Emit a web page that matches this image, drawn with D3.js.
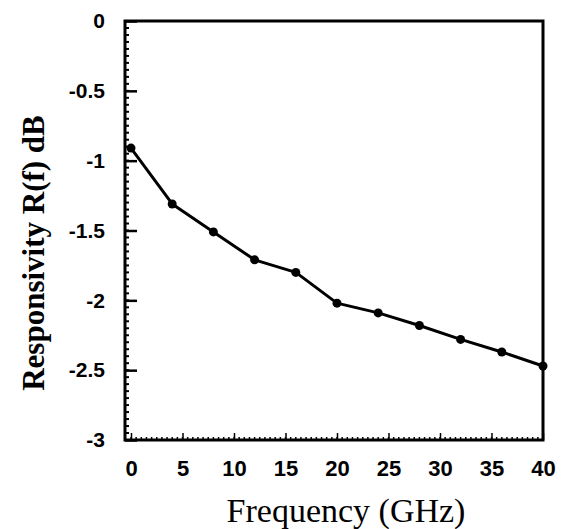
<!DOCTYPE html>
<html><head><meta charset="utf-8">
<script src="https://cdn.jsdelivr.net/npm/d3@7"></script>
<style>body{margin:0;background:#fff}svg{display:block}</style>
</head><body>
<svg id="c" width="562" height="529"></svg>
<script>
const freq = [0, 4, 8, 12, 16, 20, 24, 28, 32, 36, 40];
const resp = [-0.91, -1.31, -1.51, -1.71, -1.80, -2.02, -2.09, -2.18, -2.28, -2.37, -2.47];
const xTicks = [0, 5, 10, 15, 20, 25, 30, 35, 40];
const yTicks = [0, -0.5, -1, -1.5, -2, -2.5, -3];
const yTickLabels = ["0", "-0.5", "-1", "-1.5", "-2", "-2.5", "-3"];

const svg = d3.select("#c");
const L = 125, R = 543, T = 21, B = 440;
const x = d3.scaleLinear().domain([0, 40]).range([L + 6, R]);
const y = d3.scaleLinear().domain([-3, 0]).range([B, T]);

const g = svg.append("g");
// frame
g.append("rect").attr("x", L).attr("y", T).attr("width", R - L).attr("height", B - T)
  .attr("fill", "none").attr("stroke", "#000").attr("stroke-width", 3);

// minor ticks
const yMinor = d3.range(0, 61).map(i => -i * 0.05);
g.selectAll(".ym").data(yMinor).enter().append("line")
  .attr("x1", L).attr("x2", L + 4).attr("y1", d => y(d)).attr("y2", d => y(d))
  .attr("stroke", "#000").attr("stroke-width", 2);
const xMinor = d3.range(0, 81).map(i => i * 0.5);
g.selectAll(".xm").data(xMinor).enter().append("line")
  .attr("x1", d => x(d)).attr("x2", d => x(d)).attr("y1", B).attr("y2", B - 3)
  .attr("stroke", "#000").attr("stroke-width", 1.5);

// axes via d3 with inward ticks
const yAxis = d3.axisLeft(y).tickValues(yTicks).tickSize(-12)
  .tickFormat((d, i) => yTickLabels[i]).tickPadding(20);
const ya = g.append("g").attr("transform", `translate(${L},0)`).call(yAxis);
ya.select(".domain").remove();
ya.selectAll(".tick line").attr("stroke-width", 2.5);
ya.selectAll("text").attr("font-family", "Liberation Sans, Arial, sans-serif")
  .attr("font-weight", "bold").attr("font-size", 21).attr("fill", "#000");

const xAxis = d3.axisBottom(x).tickValues(xTicks).tickSize(-7).tickPadding(20);
const xa = g.append("g").attr("transform", `translate(0,${B})`).call(xAxis);
xa.select(".domain").remove();
xa.selectAll(".tick line").attr("stroke-width", 1.5);
xa.selectAll("text").attr("font-family", "Liberation Sans, Arial, sans-serif")
  .attr("font-weight", "bold").attr("font-size", 22).attr("fill", "#000");

// data
const line = d3.line().x((d, i) => x(freq[i])).y(d => y(d));
g.append("path").datum(resp).attr("d", line).attr("fill", "none")
  .attr("stroke", "#000").attr("stroke-width", 3).attr("stroke-linejoin", "round");
g.selectAll(".pt").data(resp).enter().append("circle")
  .attr("cx", (d, i) => x(freq[i])).attr("cy", d => y(d)).attr("r", 4.5).attr("fill", "#000");

// labels
svg.append("text").attr("x", 346).attr("y", 522).attr("text-anchor", "middle")
  .attr("font-family", "Liberation Serif, Times New Roman, serif").attr("font-size", 34)
  .attr("fill", "#000").text("Frequency (GHz)");
svg.append("text").attr("transform", "translate(44,253) rotate(-90)").attr("text-anchor", "middle")
  .attr("font-family", "Liberation Serif, Times New Roman, serif").attr("font-weight", "bold")
  .attr("font-size", 31).attr("fill", "#000").text("Responsivity R(f) dB");
</script>
</body></html>
